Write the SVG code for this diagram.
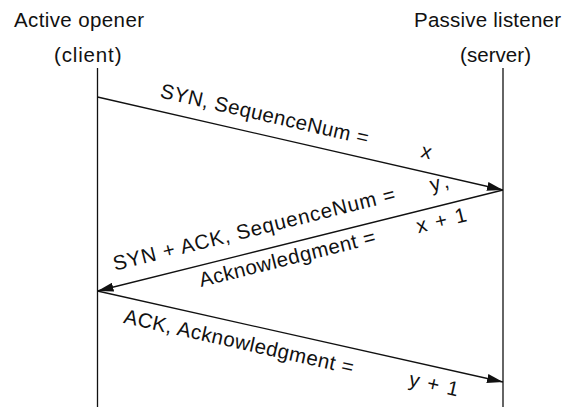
<svg xmlns="http://www.w3.org/2000/svg" width="564" height="407" viewBox="0 0 564 407">
  <style>
    text { font-family: "Liberation Sans", Arial, Helvetica, sans-serif; font-size: 20.5px; fill: #111; }
    .life { stroke: #111; stroke-width: 1.3; fill: none; }
    .msg { stroke: #111; stroke-width: 1.3; fill: none; marker-end: url(#head); }
  </style>
  <defs>
    <marker id="head" markerUnits="userSpaceOnUse" viewBox="0 0 16 9" refX="16" refY="4.5" markerWidth="16" markerHeight="9" orient="auto">
      <path d="M0,0 L16,4.5 L0,9 Z" fill="#111"/>
    </marker>
  </defs>

  <!-- client side -->
  <g id="client">
    <text x="14" y="27" textLength="130" lengthAdjust="spacing">Active opener</text>
    <text x="54" y="62" textLength="67.5" lengthAdjust="spacing">(client)</text>
    <line class="life" x1="97.5" y1="68" x2="97.5" y2="407"/>
  </g>

  <!-- server side -->
  <g id="server">
    <text x="414" y="27" textLength="147" lengthAdjust="spacing">Passive listener</text>
    <text x="460" y="62" textLength="71" lengthAdjust="spacing">(server)</text>
    <line class="life" x1="503" y1="68" x2="503" y2="407"/>
  </g>

  <!-- handshake messages -->
  <g id="connectors">
    <line class="msg" x1="97.5" y1="97" x2="503" y2="190"/>
    <line class="msg" x1="503" y1="190" x2="97.5" y2="291"/>
    <line class="msg" x1="97.5" y1="291" x2="503" y2="382"/>
  </g>

  <!-- message labels -->
  <g id="syn-label">
    <text transform="translate(159.3,97.3) rotate(12.9)" textLength="213" lengthAdjust="spacing">SYN, SequenceNum =</text>
    <text transform="translate(420,157) rotate(12.9)">x</text>
  </g>
  <g id="synack-label">
    <text transform="translate(115,270.7) rotate(-14)" textLength="290" lengthAdjust="spacing">SYN + ACK, SequenceNum =</text>
    <text transform="translate(431.7,191.7) rotate(-14)" textLength="19" lengthAdjust="spacing">y,</text>
    <text transform="translate(201,287) rotate(-14)" textLength="181" lengthAdjust="spacing">Acknowledgment =</text>
    <text transform="translate(418.3,233.3) rotate(-14)" textLength="51" lengthAdjust="spacing">x + 1</text>
  </g>
  <g id="ack-label">
    <text transform="translate(122.7,322.7) rotate(12.7)" textLength="235" lengthAdjust="spacing">ACK, Acknowledgment =</text>
    <text transform="translate(408,385.5) rotate(12.7)" textLength="50" lengthAdjust="spacing">y + 1</text>
  </g>
</svg>
